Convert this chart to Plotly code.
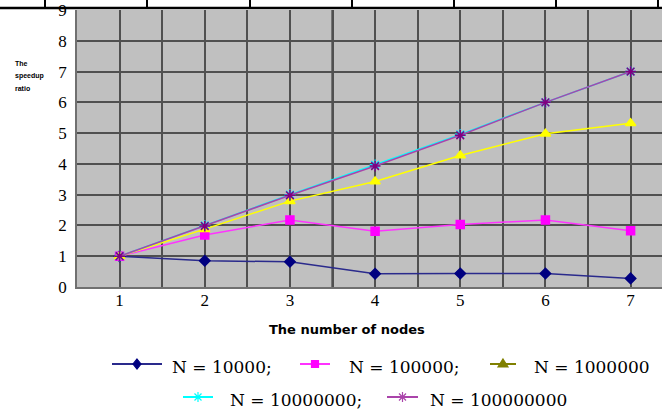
import plotly.graph_objects as go

# ---- data ----
nodes = [1, 2, 3, 4, 5, 6, 7]
s_1e4 = [1.0, 0.85, 0.82, 0.43, 0.44, 0.44, 0.28]
s_1e5 = [1.0, 1.69, 2.18, 1.81, 2.03, 2.18, 1.83]
s_1e6 = [1.0, 1.88, 2.79, 3.43, 4.27, 4.98, 5.32]
s_1e7 = [1.0, 2.0, 3.0, 3.97, 4.96, 6.0, 7.0]
s_1e8 = [1.0, 1.98, 2.98, 3.93, 4.93, 6.0, 7.0]
y_ticks = [0, 1, 2, 3, 4, 5, 6, 7, 8, 9]
series_names = ["N = 10000;", "N = 100000;", "N = 1000000",
                "N = 10000000;", "N = 100000000"]

# ---- layout geometry (page pixels) ----
L, T, W, H = 77, 10, 585, 277
UNIT = 85.17
FIG_W, FIG_H = 662, 409


def px(x):
    return (x - L) / W


def py(y):
    return (T + H - y) / H


fig = go.Figure()
styles = [
    (s_1e4, "#2a2a8c", "#000080", "diamond", 8),
    (s_1e5, "#ff33ff", "#ff00ff", "square", 8),
    (s_1e6, "#ffff00", "#ffff00", "triangle-up", 9),
    (s_1e7, "#00ffff", "#00e0ff", "asterisk-open", 9),
    (s_1e8, "#aa44aa", "#800080", "asterisk-open", 9),
]
for (vals, lc, mc, sym, ms), name in zip(styles, series_names):
    fig.add_trace(go.Scatter(
        x=nodes, y=vals, mode="lines+markers", name=name,
        line=dict(color=lc, width=1.5),
        marker=dict(symbol=sym, size=ms, color=mc,
                    line=dict(color=mc, width=1.5)),
        showlegend=False, cliponaxis=False))

shapes = []
# special black vertical lines
for xv in [3.5, 4]:
    shapes.append(dict(type="line", xref="x", yref="paper", x0=xv, x1=xv,
                       y0=0, y1=1, line=dict(color="black", width=1.8),
                       layer="below"))
# table border line at top, with its cell dividers
shapes.append(dict(type="line", xref="paper", yref="paper",
                   x0=px(0), x1=px(FIG_W), y0=py(8), y1=py(8),
                   line=dict(color="black", width=2.5)))
for xt in [45, 147, 250, 352, 454, 556, 658]:
    shapes.append(dict(type="line", xref="paper", yref="paper",
                       x0=px(xt), x1=px(xt), y0=py(0), y1=py(8),
                       line=dict(color="black", width=2)))

# manual legend
legend_items = [
    (112, 162, 364, "#000080", "#2a2a8c", "diamond", 170, series_names[0]),
    (300, 330, 364, "#ff00ff", "#ff33ff", "square", 347, series_names[1]),
    (490, 516, 364, "#808000", "#808000", "triangle", 532, series_names[2]),
    (183, 213, 397, "#00ffff", "#00ffff", "asterisk", 228, series_names[3]),
    (387, 418, 397, "#aa44aa", "#aa44aa", "asterisk", 428, series_names[4]),
]
paths = {
    "diamond": "M0,5 L4,0 L0,-5 L-4,0 Z",
    "square": "M-3.5,-3.5 L3.5,-3.5 L3.5,3.5 L-3.5,3.5 Z",
    "triangle": "M0,5 L5,-3 L-5,-3 Z",
    "asterisk": "M-5,0 L5,0 M0,-5 L0,5 M-3.5,-3.5 L3.5,3.5 M-3.5,3.5 L3.5,-3.5",
}
annotations = []
for x0, x1, yy, mc, lc, kind, tx, txt in legend_items:
    shapes.append(dict(type="line", xref="paper", yref="paper",
                       x0=px(x0), x1=px(x1), y0=py(yy), y1=py(yy),
                       line=dict(color=lc, width=2)))
    filled = kind != "asterisk"
    shapes.append(dict(type="path", xref="paper", yref="paper",
                       xsizemode="pixel", ysizemode="pixel",
                       xanchor=px((x0 + x1) / 2), yanchor=py(yy),
                       path=paths[kind],
                       fillcolor=mc if filled else "rgba(0,0,0,0)",
                       line=dict(color=mc, width=1.2)))
    annotations.append(dict(xref="paper", yref="paper", x=px(tx), y=py(yy + 3),
                            xanchor="left", yanchor="middle", showarrow=False,
                            text=txt,
                            font=dict(family="DejaVu Serif", size=17,
                                      color="black")))

# axis titles
annotations.append(dict(xref="paper", yref="paper", x=px(347), y=py(329),
                        xanchor="center", yanchor="middle", showarrow=False,
                        text="The number of nodes",
                        font=dict(family="DejaVu Sans", size=13,
                                  color="black", weight="bold")))
for line_txt, yy in [("The", 63), ("speedup", 76), ("ratio", 89)]:
    annotations.append(dict(xref="paper", yref="paper", x=px(13), y=py(yy),
                            xanchor="left", yanchor="middle", showarrow=False,
                            text=line_txt,
                            font=dict(family="Liberation Sans", size=7,
                                      color="black", weight="bold")))

grid_col = "#505050"
fig.update_layout(
    width=FIG_W, height=FIG_H,
    margin=dict(l=L, r=FIG_W - L - W, t=T, b=FIG_H - T - H, pad=0),
    paper_bgcolor="white", plot_bgcolor="#c0c0c0",
    showlegend=False,
    shapes=shapes, annotations=annotations,
    xaxis=dict(range=[0.5, 0.5 + W / UNIT], tickvals=nodes,
               ticktext=[str(n) for n in nodes],
               showgrid=True, gridcolor=grid_col, gridwidth=1.5,
               minor=dict(tick0=0.5, dtick=0.5, showgrid=True,
                          gridcolor=grid_col, gridwidth=1.5),
               zeroline=False, showline=True, linecolor="#707070",
               linewidth=1.5, ticks="", ticklabelstandoff=-3,
               automargin=False,
               tickfont=dict(family="Liberation Serif", size=17,
                             color="black")),
    yaxis=dict(range=[0, 9], tickvals=y_ticks,
               showgrid=True, gridcolor=grid_col, gridwidth=1.5,
               zeroline=False, showline=True, linecolor="#707070",
               linewidth=1.5, ticks="", ticklabelstandoff=5,
               automargin=False,
               tickfont=dict(family="Liberation Serif", size=17,
                             color="black")),
)

# remove the page's default body margin so the figure sits at the top-left
fig.write_html("out.html",
               config={"displayModeBar": False},
               post_script="document.body.style.margin='0px';")
